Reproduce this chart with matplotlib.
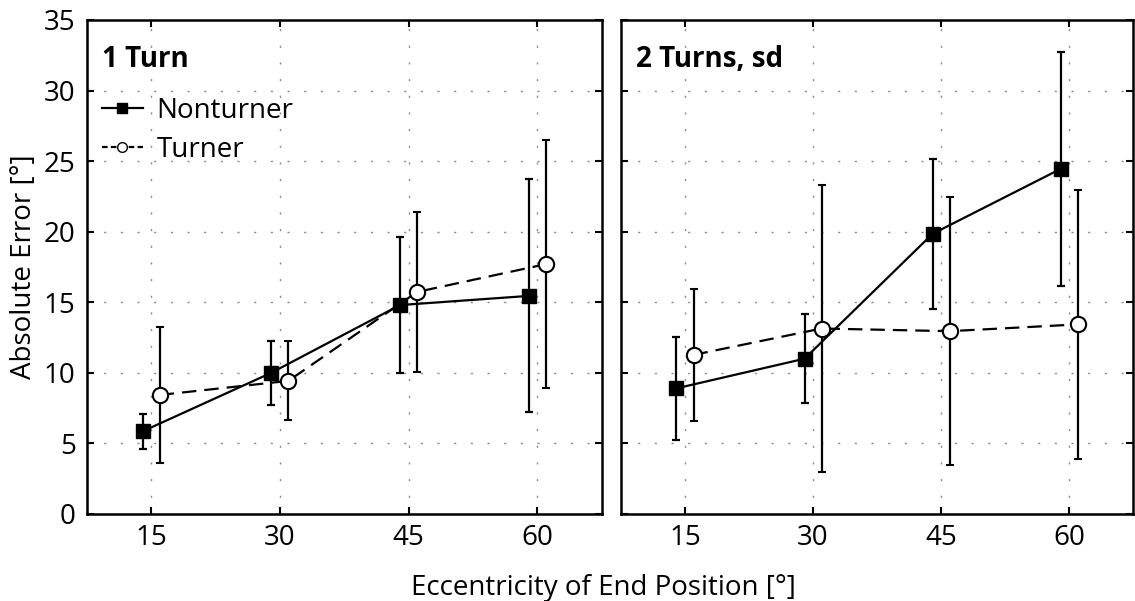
import matplotlib
matplotlib.use("Agg")
import matplotlib.pyplot as plt
from matplotlib.lines import Line2D

plt.rcParams["font.family"] = ["Open Sans", "DejaVu Sans"]

ecc = [15, 30, 45, 60]
ecc_ticks = [15, 30, 45, 60]

one_turn_non = [5.85, 10.0, 14.8, 15.45]
one_turn_non_sd = [1.25, 2.25, 4.8, 8.25]
one_turn_tur = [8.43, 9.43, 15.73, 17.7]
one_turn_tur_sd = [4.85, 2.8, 5.65, 8.8]

two_turn_non = [8.9, 11.0, 19.85, 24.45]
two_turn_non_sd = [3.65, 3.15, 5.3, 8.3]
two_turn_tur = [11.27, 13.14, 12.95, 13.43]
two_turn_tur_sd = [4.65, 10.2, 9.5, 9.5]

panel_titles = ["1 Turn", "2 Turns, sd"]

offset = 1.0  # horizontal jitter between the two groups
fs = 20
lw = 1.6
dash = (0, (6.5, 3.6))

fig = plt.figure(figsize=(11.35, 6.01), dpi=100)
ax1 = fig.add_axes([0.0764, 0.1448, 0.4537, 0.822])
ax2 = fig.add_axes([0.5471, 0.1448, 0.4514, 0.822])


def draw_panel(ax, non, non_sd, tur, tur_sd, title):
    xn = [x - offset for x in ecc]
    xt = [x + offset for x in ecc]
    ax.errorbar(xn, non, yerr=non_sd, color="black", lw=lw, elinewidth=lw,
                capsize=3, capthick=lw, marker="s", ms=10, mfc="black",
                mec="black", ls="-", zorder=3)
    ax.errorbar(xt, tur, yerr=tur_sd, color="black", lw=lw, elinewidth=lw,
                capsize=3, capthick=lw, marker="o", ms=11, mfc="white",
                mec="black", mew=1.5, ls=dash, zorder=3)
    ax.set_xlim(7.5, 67.5)
    ax.set_ylim(0, 35)
    ax.set_xticks(ecc_ticks)
    ax.set_yticks(range(0, 36, 5))
    ax.grid(True, ls=(0, (1.5, 10.5)), color="#888888", lw=1.0)
    ax.tick_params(direction="in", length=5, width=1.5, top=True, right=True,
                   labelsize=fs)
    ax.tick_params(axis="x", pad=7)
    ax.tick_params(axis="y", pad=8)
    for s in ax.spines.values():
        s.set_linewidth(1.8)
    ax.text(0.029, 0.949, title, transform=ax.transAxes, fontsize=fs,
            fontweight="bold", va="top", ha="left")


draw_panel(ax1, one_turn_non, one_turn_non_sd, one_turn_tur, one_turn_tur_sd,
           panel_titles[0])
draw_panel(ax2, two_turn_non, two_turn_non_sd, two_turn_tur, two_turn_tur_sd,
           panel_titles[1])
ax2.set_yticklabels([])

fig.text(0.021, 0.557, "Absolute Error [°]", fontsize=fs, rotation=90,
         ha="center", va="center")
fig.text(0.532, 0.01, "Eccentricity of End Position [°]", fontsize=fs,
         ha="center", va="baseline")

handles = [
    Line2D([], [], color="black", lw=lw, marker="s", ms=7, mfc="black"),
    Line2D([], [], color="black", lw=lw, marker="o", ms=7, mfc="white",
           ls=(0, (2.5, 1.5))),
]
ax1.legend(handles, ["Nonturner", "Turner"], loc="upper left",
           bbox_to_anchor=(0.029, 0.845), frameon=False, fontsize=fs,
           handlelength=1.48, handletextpad=0.5, labelspacing=0.42,
           borderpad=0, borderaxespad=0)

fig.savefig("out.png", dpi=100)
